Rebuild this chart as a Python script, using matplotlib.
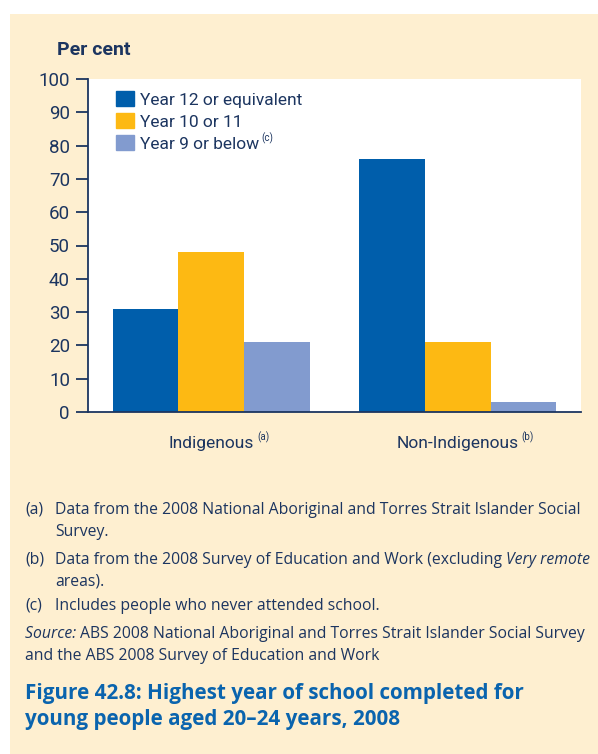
import numpy as np
import matplotlib.pyplot as plt
from matplotlib.patches import Rectangle, Patch

# data
groups = ["Indigenous", "Non-Indigenous"]
group_notes = ["(a)", "(b)"]
series = ["Year 12 or equivalent", "Year 10 or 11", "Year 9 or below"]
year12 = [31, 76]
year10 = [48, 21]
year9 = [21, 3]
yticks = [0, 10, 20, 30, 40, 50, 60, 70, 80, 90, 100]

colors = ["#005EAB", "#FDB913", "#829BCF"]
navy = "#1C3560"
cream = "#FEEFD0"
title_blue = "#0A64AE"

cond = ["Roboto", "DejaVu Sans"]
body = ["Open Sans", "DejaVu Sans"]

fig = plt.figure(figsize=(5.98, 7.54), dpi=100)
fig.patch.set_facecolor("white")
fig.patches.append(Rectangle((10 / 598, 0), 1, 1 - 14 / 754, transform=fig.transFigure,
                             facecolor=cream, edgecolor="none", zorder=-10))

ax = fig.add_axes([88 / 598, 1 - 412 / 754, 493 / 598, 333 / 754])
x = np.arange(len(groups))
w = 0.267
ax.bar(x - w, year12, w, color=colors[0], label=series[0])
ax.bar(x, year10, w, color=colors[1], label=series[1])
ax.bar(x + w, year9, w, color=colors[2], label=series[2])

ax.set_xlim(-0.5, 1.5)
ax.set_ylim(0, 100)
ax.set_yticks(yticks)
ax.set_yticklabels([str(t) for t in yticks], family=cond, fontsize=13.5, color=navy)
ax.set_xticks(x)
ax.set_xticklabels(groups, family=cond, fontsize=12.5, color=navy)
ax.tick_params(axis="y", length=9, width=1.3, color=navy, pad=4)
ax.tick_params(axis="x", length=0, pad=17)
for s in ["top", "right"]:
    ax.spines[s].set_visible(False)
for s in ["left", "bottom"]:
    ax.spines[s].set_color(navy)
    ax.spines[s].set_linewidth(1.3)

fig.text(57 / 598, 1 - 50 / 754, "Per cent", family=cond, fontsize=14, fontweight="bold",
         color=navy, va="center", ha="left")

handles = [Patch(color=c) for c in colors]
leg = ax.legend(handles, series, loc="upper left", bbox_to_anchor=(0.043, 0.985), frameon=False,
                prop={"family": cond, "size": 12.5}, handlelength=1.0, handleheight=1.0,
                handletextpad=0.35, labelspacing=0.3, borderaxespad=0)
for t in leg.get_texts():
    t.set_color(navy)

fig.canvas.draw()
r = fig.canvas.get_renderer()
inv = fig.transFigure.inverted()

# superscript notes
def sup_after(txt, note):
    bb = txt.get_window_extent(r)
    px, py = inv.transform((bb.x1 + 3, bb.y1 - 2))
    fig.text(px, py, note, family=cond, fontsize=7, color=navy, va="center", ha="left")

for lbl, note in zip(ax.get_xticklabels(), group_notes):
    sup_after(lbl, note)
sup_after(leg.get_texts()[2], "(c)")

# footnotes drawn as runs of text
def runs(x0, y0, parts, size=11, color=navy):
    xp = x0
    for s, style in parts:
        t = fig.text(xp / 598, 1 - y0 / 754, s, family=body, fontsize=size, style=style,
                     color=color, va="center", ha="left")
        bb = t.get_window_extent(r)
        xp += bb.width

fs = 11.3
runs(25, 510, [("(a)", "normal")], fs)
runs(55, 510, [("Data from the 2008 National Aboriginal and Torres Strait Islander Social", "normal")], fs)
runs(55, 532, [("Survey.", "normal")], fs)
runs(25, 560, [("(b)", "normal")], fs)
runs(55, 560, [("Data from the 2008 Survey of Education and Work (excluding ", "normal"),
               ("Very remote", "italic")], fs)
runs(55, 582, [("areas).", "normal")], fs)
runs(25, 606, [("(c)", "normal")], fs)
runs(55, 606, [("Includes people who never attended school.", "normal")], fs)
runs(25, 634, [("Source: ", "italic"),
               ("ABS 2008 National Aboriginal and Torres Strait Islander Social Survey", "normal")], fs)
runs(25, 656, [("and the ABS 2008 Survey of Education and Work", "normal")], fs)

fig.text(25 / 598, 1 - 694 / 754, "Figure 42.8: Highest year of school completed for",
         family=body, fontsize=14.9, fontweight="bold", color=title_blue, va="center")
fig.text(25 / 598, 1 - 720 / 754, "young people aged 20\u201324 years, 2008",
         family=body, fontsize=14.9, fontweight="bold", color=title_blue, va="center")

fig.savefig("out.png", dpi=100, facecolor=fig.get_facecolor())
